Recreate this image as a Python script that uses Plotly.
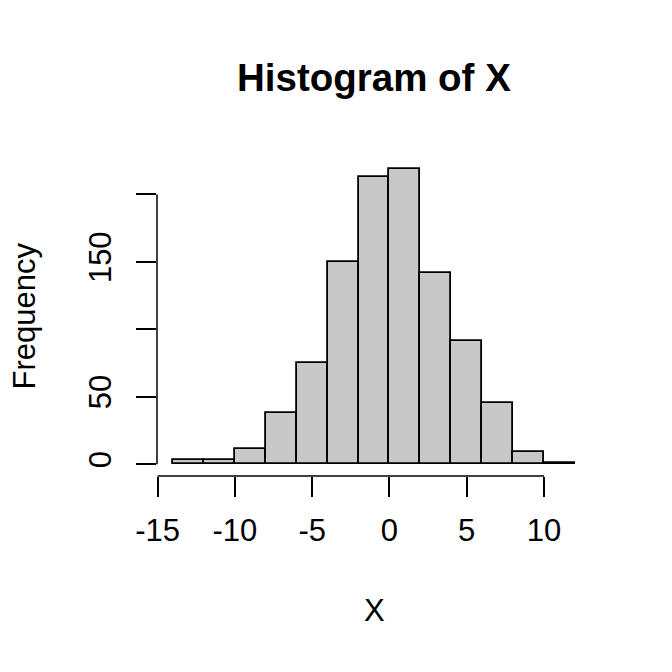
import plotly.graph_objects as go

# Histogram data (bin edges from -14 to 12, width 2)
bin_starts = [-14, -12, -10, -8, -6, -4, -2, 0, 2, 4, 6, 8, 10]
bin_width = 2
counts = [3, 3, 11, 38, 75, 150, 213, 219, 142, 91, 45, 9, 1]

x_ticks = [-15, -10, -5, 0, 5, 10]
y_ticks = [0, 50, 100, 150, 200]
y_tick_labels = ["0", "50", "", "150", ""]

title_text = "Histogram of X"
x_label = "X"
y_label = "Frequency"

FONT = "Liberation Sans, Arial, sans-serif"
W = H = 672
L, R, T, B = 157, 81, 157, 196

centers = [s + bin_width / 2 for s in bin_starts]
xmin, xmax = bin_starts[0], bin_starts[-1] + bin_width
pad_x = 0.04 * (xmax - xmin)
ymax = max(counts)
pad_y = 0.04 * ymax

fig = go.Figure()
fig.add_trace(go.Bar(
    x=centers, y=counts, width=[bin_width] * len(counts),
    marker=dict(color="#C8C8C8", line=dict(color="black", width=1.8)),
    hoverinfo="x+y",
))

fig.update_layout(
    width=W, height=H,
    margin=dict(l=L, r=R, t=T, b=B, pad=0),
    paper_bgcolor="white", plot_bgcolor="white",
    showlegend=False,
    bargap=0,
    font=dict(family=FONT, color="black", size=31),
    xaxis=dict(
        range=[xmin - pad_x, xmax + pad_x],
        tickvals=x_ticks, ticktext=[str(v) for v in x_ticks],
        ticks="outside", ticklen=20, tickwidth=1.5, tickcolor="black",
        showline=False, showgrid=False, zeroline=False,
        tickfont=dict(size=31, family=FONT),
        ticklabelstandoff=7,
        fixedrange=True,
    ),
    yaxis=dict(
        range=[-pad_y, ymax + pad_y],
        tickvals=y_ticks, ticktext=y_tick_labels,
        ticks="outside", ticklen=20, tickwidth=1.5, tickcolor="black",
        showline=False, showgrid=False, zeroline=False,
        tickangle=-90,
        tickfont=dict(size=31, family=FONT),
        ticklabelstandoff=13,
        fixedrange=True,
    ),
)

# R-style axis lines spanning first to last tick
fig.add_shape(type="line", xref="x", yref="paper",
              x0=x_ticks[0], x1=x_ticks[-1], y0=0, y1=0,
              line=dict(color="black", width=1.5))
fig.add_shape(type="line", xref="paper", yref="y",
              x0=0, x1=0, y0=y_ticks[0], y1=y_ticks[-1],
              line=dict(color="black", width=1.5))

plot_h = H - T - B
plot_w = W - L - R

fig.add_annotation(text="<b>" + title_text + "</b>", xref="paper", yref="paper",
                   x=0.5, y=1 + (T - 78) / plot_h, xanchor="center", yanchor="middle",
                   showarrow=False, font=dict(size=38.5, family=FONT, color="black"))
fig.add_annotation(text=x_label, xref="paper", yref="paper",
                   x=0.5, y=-(610 - (H - B)) / plot_h, xanchor="center", yanchor="middle",
                   showarrow=False, font=dict(size=31, family=FONT, color="black"))
fig.add_annotation(text=y_label, xref="paper", yref="paper",
                   x=-(L - 24) / plot_w, y=0.5, xanchor="center", yanchor="middle",
                   textangle=-90,
                   showarrow=False, font=dict(size=31, family=FONT, color="black"))

fig.write_html("out.html",
               config={"displayModeBar": False},
               post_script="document.body.style.margin='0';document.body.style.padding='0';")
